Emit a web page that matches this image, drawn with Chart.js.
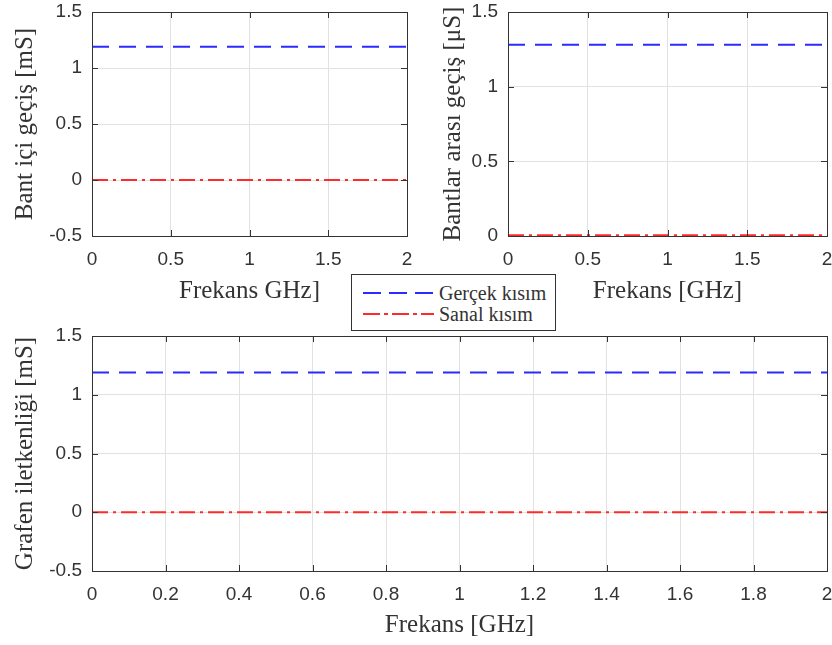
<!DOCTYPE html>
<html>
<head>
<meta charset="utf-8">
<title>Grafen iletkenliği</title>
<script src="https://cdn.jsdelivr.net/npm/chart.js@4.4.1/dist/chart.umd.min.js"></script>
<style>
  html, body { margin: 0; padding: 0; background: #fff; }
  #page { position: relative; width: 832px; height: 645px; overflow: hidden; }
  .panel { position: absolute; }
  #legend {
    position: absolute; left: 351px; top: 274px; width: 203px; height: 55px;
    background: #fff; border: 1px solid #333; z-index: 5;
    font-family: "Liberation Serif", "Times New Roman", serif; font-size: 20px; color: #333;
  }
  #legend .row { position: absolute; left: 0; height: 20px; display: flex; align-items: center; }
  #legend svg { margin-left: 11px; margin-right: 5px; }
</style>
</head>
<body>
<div id="page">
  <canvas id="chartInBand"    class="panel" width="416" height="310" style="left:0;top:0"></canvas>
  <canvas id="chartInterBand" class="panel" width="416" height="310" style="left:416px;top:0"></canvas>
  <canvas id="chartTotal"     class="panel" width="832" height="325" style="left:0;top:320px"></canvas>
  <div id="legend">
    <div class="row" style="top:8px">
      <svg width="71" height="4"><line x1="0" y1="2" x2="71" y2="2" stroke="#2b2bff" stroke-width="2" stroke-dasharray="18 8"/></svg>
      <span>Gerçek kısım</span>
    </div>
    <div class="row" style="top:29px">
      <svg width="71" height="4"><line x1="0" y1="2" x2="71" y2="2" stroke="#ff2a2a" stroke-width="2" stroke-dasharray="17 4 4 4"/></svg>
      <span>Sanal kısım</span>
    </div>
  </div>
</div>
<script>
"use strict";

// ── Data ───────────────────────────────────────────────────────────────────
const freqGHz        = [0, 0.25, 0.5, 0.75, 1, 1.25, 1.5, 1.75, 2];
const intraRealmS    = [1.19, 1.19, 1.19, 1.19, 1.19, 1.19, 1.19, 1.19, 1.19];
const intraImagmS    = [0, 0, 0, 0, 0, 0, 0, 0, 0];
const interRealuS    = [1.28, 1.28, 1.28, 1.28, 1.28, 1.28, 1.28, 1.28, 1.28];
const interImaguS    = [0.005, 0.005, 0.005, 0.005, 0.005, 0.005, 0.005, 0.005, 0.005];
const totalRealmS    = [1.19, 1.19, 1.19, 1.19, 1.19, 1.19, 1.19, 1.19, 1.19];
const totalImagmS    = [0, 0, 0, 0, 0, 0, 0, 0, 0];

const seriesNames    = ["Gerçek kısım", "Sanal kısım"];
const yTicksMS       = [-0.5, 0, 0.5, 1, 1.5];
const yTicksUS       = [0, 0.5, 1, 1.5];
const xTicksTop      = [0, 0.5, 1, 1.5, 2];
const xTicksBottom   = [0, 0.2, 0.4, 0.6, 0.8, 1, 1.2, 1.4, 1.6, 1.8, 2];

// ── Style ──────────────────────────────────────────────────────────────────
const BLUE  = "#2b2bff";
const RED   = "#ff2a2a";
const INK   = "#333333";
const GRID  = "#e2e2e2";
const SERIF = "'Liberation Serif', 'Times New Roman', serif";
const SANS  = "'Liberation Sans', Arial, sans-serif";

Chart.defaults.font.family = SANS;
Chart.defaults.color = INK;

// MATLAB style box: frame + small inward tick marks on all four sides
const axesBox = {
  id: "axesBox",
  afterDraw(chart) {
    const { ctx, chartArea: a, scales } = chart;
    const len = 6;
    ctx.save();
    ctx.strokeStyle = INK;
    ctx.lineWidth = 1;
    ctx.beginPath();
    scales.x.ticks.forEach((t) => {
      const px = Math.round(scales.x.getPixelForValue(t.value)) + 0.5;
      ctx.moveTo(px, a.bottom); ctx.lineTo(px, a.bottom - len);
      ctx.moveTo(px, a.top);    ctx.lineTo(px, a.top + len);
    });
    scales.y.ticks.forEach((t) => {
      const py = Math.round(scales.y.getPixelForValue(t.value)) + 0.5;
      ctx.moveTo(a.left, py);  ctx.lineTo(a.left + len, py);
      ctx.moveTo(a.right, py); ctx.lineTo(a.right - len, py);
    });
    ctx.stroke();
    ctx.strokeRect(Math.round(a.left) + 0.5, Math.round(a.top) + 0.5,
                   Math.round(a.right - a.left), Math.round(a.bottom - a.top));
    ctx.restore();
  },
};

function makeDataset(label, values, color, dash) {
  return {
    label,
    data: freqGHz.map((f, i) => ({ x: f, y: values[i] })),
    borderColor: color,
    borderWidth: 2,
    borderDash: dash,
    pointRadius: 0,
    tension: 0,
    fill: false,
  };
}

function fmt(v) {
  return String(Math.round(v * 10) / 10);
}

// the label overhang would otherwise push the plot area in
function noOverhang(s) {
  s.paddingTop = s.paddingBottom = s.paddingLeft = s.paddingRight = 0;
}

function makeChart(id, cfg) {
  return new Chart(document.getElementById(id), {
    type: "line",
    data: {
      datasets: [
        makeDataset(seriesNames[0], cfg.real, BLUE, [17, 10]),
        makeDataset(seriesNames[1], cfg.imag, RED, [16, 5, 3, 5]),
      ],
    },
    options: {
      responsive: false,
      animation: false,
      devicePixelRatio: 1,
      layout: { padding: { top: cfg.padTop, right: cfg.padRight, left: 0, bottom: 0 } },
      plugins: { legend: { display: false }, tooltip: { enabled: false } },
      scales: {
        x: {
          type: "linear",
          min: 0,
          max: 2,
          afterBuildTicks: (s) => { s.ticks = cfg.xTicks.map((v) => ({ value: v })); },
          afterFit: (s) => { s.height = 74; noOverhang(s); },
          grid: { color: GRID, drawTicks: false },
          border: { display: false },
          ticks: { padding: 12, autoSkip: false, maxRotation: 0, color: INK,
                   font: { family: SANS, size: 19 }, callback: fmt },
          title: { display: true, text: cfg.xTitle, color: INK,
                   font: { family: SERIF, size: 25 }, padding: { top: 0, bottom: cfg.xTitlePad } },
        },
        y: {
          type: "linear",
          min: cfg.yMin,
          max: 1.5,
          afterBuildTicks: (s) => { s.ticks = cfg.yTicks.map((v) => ({ value: v })); },
          afterFit: (s) => { s.width = 92; noOverhang(s); },
          grid: { color: GRID, drawTicks: false },
          border: { display: false },
          ticks: { padding: 10, color: INK, font: { family: SANS, size: 19 }, callback: fmt },
          title: { display: true, text: cfg.yTitle, color: INK,
                   font: { family: SERIF, size: 25 }, padding: { top: cfg.yTitlePad, bottom: 0 } },
        },
      },
    },
    plugins: [axesBox],
  });
}

// ── Charts ─────────────────────────────────────────────────────────────────
makeChart("chartInBand", {
  real: intraRealmS, imag: intraImagmS,
  xTicks: xTicksTop, yTicks: yTicksMS, yMin: -0.5,
  xTitle: "Frekans GHz]", yTitle: "Bant içi geçiş [mS]",
  padTop: 12, padRight: 9, xTitlePad: 4, yTitlePad: 10,
});

makeChart("chartInterBand", {
  real: interRealuS, imag: interImaguS,
  xTicks: xTicksTop, yTicks: yTicksUS, yMin: 0,
  xTitle: "Frekans [GHz]", yTitle: "Bantlar arası geçiş [μS]",
  padTop: 12, padRight: 5, xTitlePad: 4, yTitlePad: 22,
});

makeChart("chartTotal", {
  real: totalRealmS, imag: totalImagmS,
  xTicks: xTicksBottom, yTicks: yTicksMS, yMin: -0.5,
  xTitle: "Frekans [GHz]", yTitle: "Grafen iletkenliği [mS]",
  padTop: 16, padRight: 5, xTitlePad: 5, yTitlePad: 10,
});
</script>
</body>
</html>
